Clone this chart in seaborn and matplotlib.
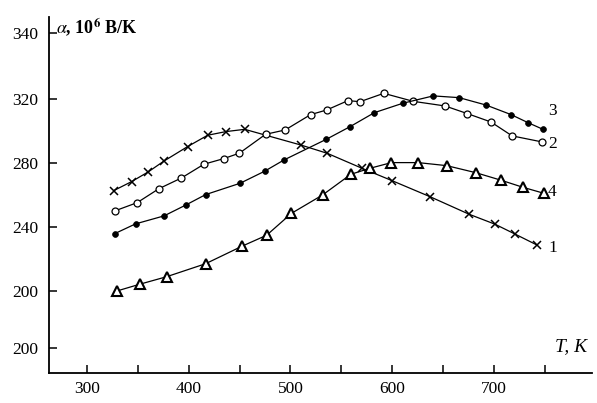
import numpy as np
import pandas as pd
import matplotlib
matplotlib.use("Agg")
import matplotlib.pyplot as plt
import seaborn as sns
from matplotlib.ticker import MultipleLocator, FixedLocator

# values (T in K, alpha in 10^-6 V/K)
t1 = [326.5, 344, 360.4, 375.9, 399, 418.7, 436.8, 455.1, 510.2, 536.2, 570.1, 599.8, 637, 675.5, 700.8, 720.9, 742]
a1 = [262.9, 268.5, 274.6, 281.4, 290.4, 297.5, 299.8, 301.2, 291.4, 286.2, 276.9, 269.1, 259.1, 248.1, 241.9, 235.6, 228.9]

t2 = [327.5, 349.6, 370.9, 393, 415.1, 434.5, 449.9, 475.6, 494.8, 519.8, 535.6, 556.3, 568.4, 591.6, 620.5, 651.8, 673.8, 696.8, 717.6, 747.2]
a2 = [250.2, 255.4, 264.1, 270.8, 279.4, 282.9, 286.3, 298.1, 300.8, 310.4, 313.3, 319.1, 318.5, 323.7, 318.7, 315.8, 311.0, 305.8, 297.1, 293.3]

t3 = [327.5, 347.9, 375.9, 397.3, 416.7, 450.6, 474.6, 493.8, 535.3, 558.6, 582.3, 610.3, 640.2, 665.6, 691.9, 716.6, 733.1, 747.9]
a3 = [236.0, 242.1, 247.1, 253.9, 260.4, 267.5, 275.0, 282.1, 295.0, 302.9, 311.6, 317.5, 322.1, 321.0, 316.4, 310.4, 305.4, 301.2]

t4 = [329.8, 352.1, 378.5, 416.7, 452.6, 476.6, 501, 531.6, 559.3, 578.3, 599.1, 625.4, 653.4, 682, 706.7, 728.1, 748.9]
a4 = [200.2, 204.4, 209.1, 217.2, 228.2, 235.0, 248.7, 260.2, 273.1, 276.9, 280.4, 280.4, 278.5, 274.1, 269.4, 265.0, 261.2]

# y tick labels as printed in the source figure
ytick_pos = [361.3, 320, 280, 240, 200, 164.4]
ytick_lab = ["340", "320", "280", "240", "200", "200"]
xtick_lab = [300, 400, 500, 600, 700, 800]

sns.set_style("ticks")
plt.rcParams["font.family"] = ["Liberation Serif", "DejaVu Serif"]
plt.rcParams["mathtext.fontset"] = "stix"
plt.rcParams["text.color"] = "black"
plt.rcParams["xtick.color"] = "black"
plt.rcParams["ytick.color"] = "black"
plt.rcParams["axes.edgecolor"] = "black"

fig = plt.figure(figsize=(5.97, 4.03), dpi=100)
ax = fig.add_axes([0.0821, 0.0744, 0.9095, 0.8834])

series = [
    (t1, a1, dict(marker="x", ms=5.5, mew=1.1, mfc="black")),
    (t2, a2, dict(marker="o", ms=5, mew=0.9, mfc="white")),
    (t3, a3, dict(marker="o", ms=4.2, mew=0.5, mfc="black")),
    (t4, a4, dict(marker="^", ms=7, mew=1.5, mfc="white")),
]
for t, a, mk in series:
    df = pd.DataFrame({"T": t, "a": a})
    sns.lineplot(data=df, x="T", y="a", color="black", lw=0.9, mec="black", ax=ax, **mk)

ax.set_xlim(263, 796)
ax.set_ylim(148.9, 371.4)
ax.xaxis.set_major_locator(FixedLocator(xtick_lab))
ax.xaxis.set_minor_locator(MultipleLocator(50))
ax.set_xticklabels([str(v) for v in xtick_lab])
ax.set_yticks(ytick_pos)
ax.set_yticklabels(ytick_lab)
ax.tick_params(axis="both", which="both", direction="in", length=6, width=1.1,
               labelsize=12.5, pad=6, colors="black")
ax.tick_params(axis="y", pad=8)
sns.despine(ax=ax)
for s in ("left", "bottom"):
    ax.spines[s].set_linewidth(1.3)
ax.set_xlabel("")
ax.set_ylabel("")

fig.text(0.094, 0.93, r"$\alpha$, 10$^{\mathbf{6}}$ B/K", fontsize=13, fontweight="bold",
         ha="left", va="center")
fig.text(0.983, 0.139, "T, K", fontsize=14, style="italic", ha="right", va="center")

for lab, yy in zip(["3", "2", "4", "1"], [111, 144, 192, 248]):
    fig.text(548 / 597, 1 - yy / 403, lab, fontsize=12.5, ha="left", va="center")

fig.savefig("out.png", dpi=100)
